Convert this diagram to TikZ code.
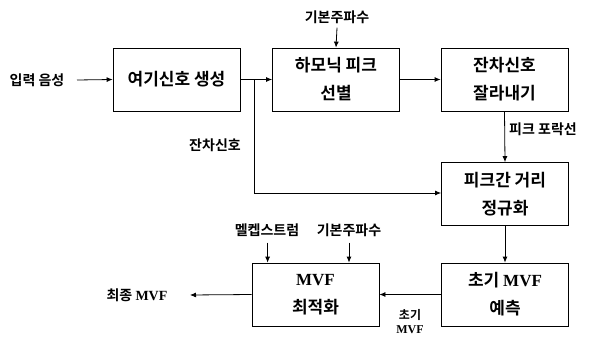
\documentclass[tikz,border=0pt]{standalone}
\usepackage{fontspec}
\setmainfont{Noto Sans CJK KR}[BoldFont={Noto Sans CJK KR Bold}]
\newfontfamily\tm{Liberation Serif}
\usetikzlibrary{arrows.meta}
\tikzset{
  blk/.style={draw,line width=0.8pt,minimum width=127pt,minimum height=63pt,inner sep=0pt,align=center,
    font=\bfseries\fontsize{17}{28}\selectfont},
  lbl/.style={inner sep=0pt,font=\bfseries\fontsize{14}{16}\selectfont,align=center},
  arr/.style={-{Latex[length=6pt,width=5pt]},line width=0.8pt},
  ln/.style={line width=0.8pt}
}
\begin{document}
\begin{tikzpicture}[x=1pt,y=-1pt]
\useasboundingbox (0,0) rectangle (589,337);
\node[blk] (b1) at (176.5,79.5) {여기신호 생성};
\node[blk] (b2) at (336,79.5) {하모닉 피크\\선별};
\node[blk] (b3) at (504.5,79.5) {잔차신호\\잘라내기};
\node[blk] (b4) at (505,194) {피크간 거리\\정규화};
\node[blk] (b5) at (505,294.5) {초기 {\tm MVF}\\예측};
\node[blk] (b6) at (315.5,294.5) {{\tm MVF}\\최적화};

\node[lbl] (in) at (37,80) {입력 음성};
\node[lbl] (f0a) at (337,17) {기본주파수};
\node[lbl] (res) at (215,145) {잔차신호};
\node[lbl] (env) at (543,129) {피크 포락선};
\node[lbl] (mel) at (267,230) {멜켑스트럼};
\node[lbl] (f0b) at (349,230) {기본주파수};
\node[lbl] (fin) at (137,295) {최종 {\tm MVF}};
\node[lbl,font=\bfseries\fontsize{12}{14}\selectfont] (ini) at (410,322) {초기\\{\tm MVF}};

\coordinate (inE) at (77,80);
\coordinate (br) at (254,79.5);
\coordinate (corner) at (254,193);
\coordinate (finE) at (190,295);

\draw[arr] (inE) -- (b1.west);
\draw[arr] (b1.east) -- (b2.west);
\draw[arr] (b2.east) -- (b3.west);
\draw[arr] (f0a.south) ++(0,4) -- (b2.north);
\draw[arr] (b3.south) -- (b4.north);
\draw[arr] (b4.south) -- (b5.north);
\draw[arr] (b5.west) -- (b6.east);
\draw[arr] (b6.west) -- (finE);
\draw[ln] (br) -- (corner);
\draw[arr] (corner) -- (b4.west |- corner);
\draw[arr] (mel.south -| b6.west) ++(16,6) -- ++(0,20);
\draw[arr] (f0b.south) ++(0,6) -- (b6.north -| f0b.south);
\end{tikzpicture}
\end{document}
